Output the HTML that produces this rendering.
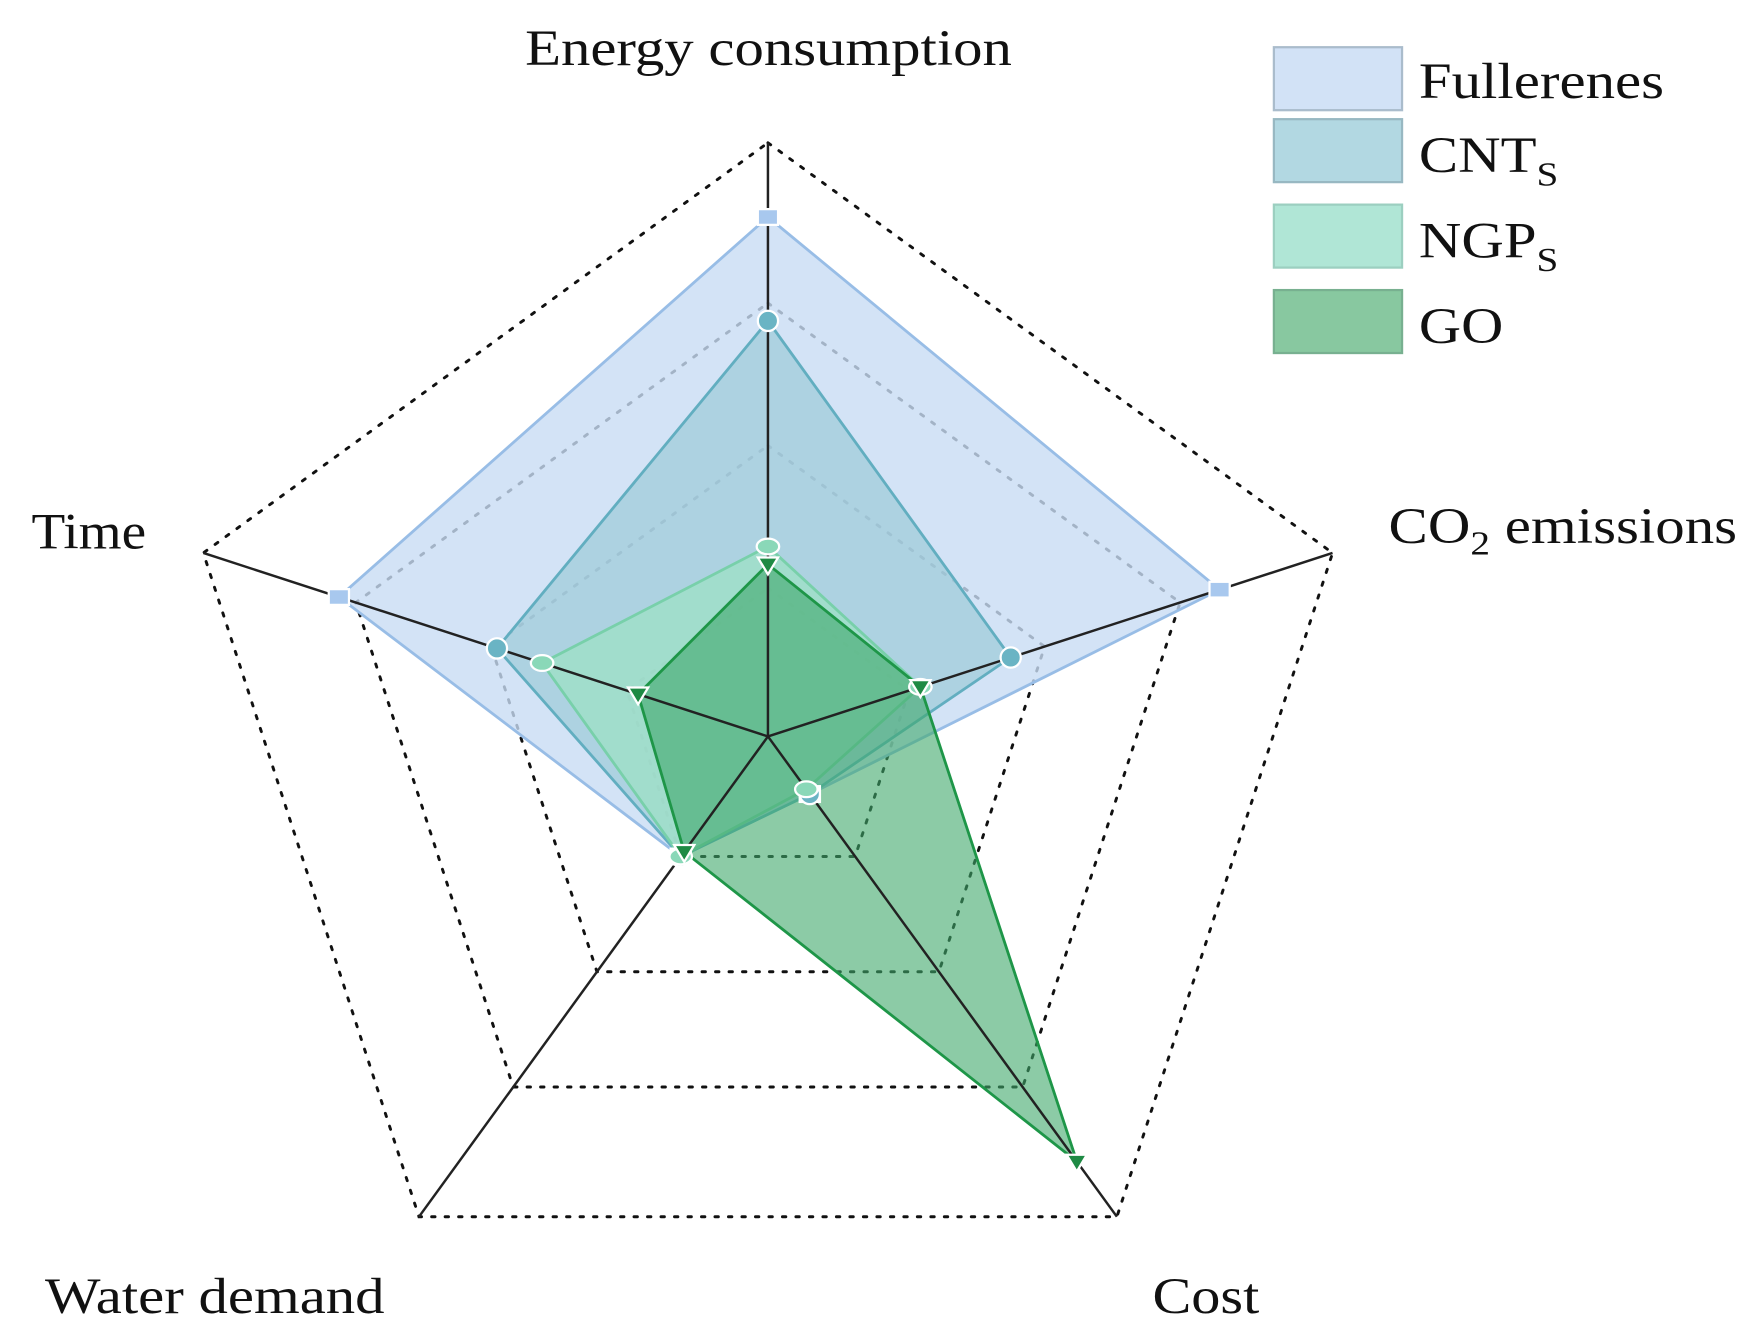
<!DOCTYPE html>
<html><head><meta charset="utf-8"><style>
html,body{margin:0;padding:0;background:#fff;}
svg{display:block;font-family:"Liberation Serif",serif;}
</style></head><body>
<svg id="chart" width="1763" height="1334" viewBox="0 0 1568 1186.5" xmlns="http://www.w3.org/2000/svg">
<g id="grid"></g>
<g id="series"></g>
<g id="axes"></g>
<g id="markers"></g>
<g font-size="45" fill="#111">
<text x="467" y="58" textLength="433" lengthAdjust="spacingAndGlyphs">Energy consumption</text>
<text x="1235" y="483" textLength="310" lengthAdjust="spacingAndGlyphs">CO<tspan font-size="30" dy="10">2</tspan><tspan dy="-10"> emissions</tspan></text>
<text x="1025" y="1168" textLength="95" lengthAdjust="spacingAndGlyphs">Cost</text>
<text x="40" y="1168" textLength="302" lengthAdjust="spacingAndGlyphs">Water demand</text>
<text x="28" y="488" textLength="102" lengthAdjust="spacingAndGlyphs">Time</text>
</g>
<g font-size="45" fill="#111">
<rect x="1133" y="42" width="114" height="56" fill="#d2e2f6" stroke="#aabccc" stroke-width="2"/>
<text x="1262" y="87" textLength="218" lengthAdjust="spacingAndGlyphs">Fullerenes</text>
<rect x="1133" y="106" width="114" height="56" fill="#b2d8e2" stroke="#98b8c2" stroke-width="2"/>
<text x="1262" y="153" textLength="124" lengthAdjust="spacingAndGlyphs">CNT<tspan font-size="30" dy="12">S</tspan></text>
<rect x="1133" y="182" width="114" height="56" fill="#b0e6d6" stroke="#9ccfc0" stroke-width="2"/>
<text x="1262" y="229" textLength="124" lengthAdjust="spacingAndGlyphs">NGP<tspan font-size="30" dy="12">S</tspan></text>
<rect x="1133" y="258" width="114" height="56" fill="#88c8a0" stroke="#78b090" stroke-width="2"/>
<text x="1262" y="305" textLength="75" lengthAdjust="spacingAndGlyphs">GO</text>
</g>
</svg>
<script>
const axesNames = ["Energy consumption","CO2 emissions","Cost","Water demand","Time"];
const ringLevels = [0.25, 0.49, 0.73, 1.0];
const fullerenesValues = [0.875, 0.80, 0.12, 0.25, 0.76];
const cntsValues = [0.70, 0.43, 0.12, 0.25, 0.48];
const ngpsValues = [0.32, 0.27, 0.11, 0.25, 0.40];
const goValues = [0.29, 0.27, 0.885, 0.24, 0.23];

const NS = "http://www.w3.org/2000/svg";
const CX = 683, CY = 655, R = 528;
function angle(i){ return -Math.PI/2 + i*2*Math.PI/axesNames.length; }
function px(i,v){ return CX + R*v*Math.cos(angle(i)); }
function py(i,v){ return CY + R*v*Math.sin(angle(i)); }
function pts(vals){ return vals.map((v,i)=>px(i,v).toFixed(1)+","+py(i,v).toFixed(1)).join(" "); }
function mk(tag, parent, attrs){ const e=document.createElementNS(NS,tag); for(const k in attrs) e.setAttribute(k,attrs[k]); parent.appendChild(e); return e; }

const grid = document.getElementById("grid");
ringLevels.forEach((lv,ri)=>{
  const p = mk("polygon", grid, {points: pts(axesNames.map(()=>lv)), fill:"none", stroke:"#111", "stroke-width":"2.6", "stroke-dasharray":"3 9", "stroke-linecap":"round"});
  
  
});

const seriesDefs = [
  {name:"fullerenes", vals:fullerenesValues, fill:"#c8dcf4", op:0.8, stroke:"#98bde6"},
  {name:"cnts", vals:cntsValues, fill:"#9ccbd8", op:0.7, stroke:"#62aec0"},
  {name:"ngps", vals:ngpsValues, fill:"#9ee0c4", op:0.75, stroke:"#78d0aa"},
  {name:"go", vals:goValues, fill:"#3fa86a", op:0.6, stroke:"#1e9648"}
];
const sg = document.getElementById("series");
seriesDefs.forEach(s=>{
  const p = mk("polygon", sg, {points: pts(s.vals), fill:s.fill, "fill-opacity":s.op, stroke:s.stroke, "stroke-width":"2.5", "stroke-linejoin":"round"});
  
  
});

const ag = document.getElementById("axes");
axesNames.forEach((n,i)=>{
  const l = mk("line", ag, {x1:CX, y1:CY, x2:px(i,1), y2:py(i,1), stroke:"#222", "stroke-width":"2.2"});
  
  
});

const mg = document.getElementById("markers");
seriesDefs.forEach(s=>{
  s.vals.forEach((v,i)=>{
    const x = px(i,v), y = py(i,v);
    let m;
    if(s.name==="fullerenes"){
      m = mk("rect", mg, {x:x-9, y:y-7, width:18, height:14, fill:"#a8c8ee", stroke:"#fff", "stroke-width":"2"});
    } else if(s.name==="cnts"){
      m = mk("circle", mg, {cx:x, cy:y, r:9, fill:"#6ab4c4", stroke:"#fff", "stroke-width":"2"});
    } else if(s.name==="ngps"){
      m = mk("ellipse", mg, {cx:x, cy:y, rx:10, ry:7, fill:"#8ad8b8", stroke:"#fff", "stroke-width":"2"});
    } else {
      m = mk("polygon", mg, {points:(x-9)+","+(y-6)+" "+(x+9)+","+(y-6)+" "+x+","+(y+9), fill:"#1e8a44", stroke:"#fff", "stroke-width":"2"});
    }
    
    
  });
});
</script>
</body></html>
